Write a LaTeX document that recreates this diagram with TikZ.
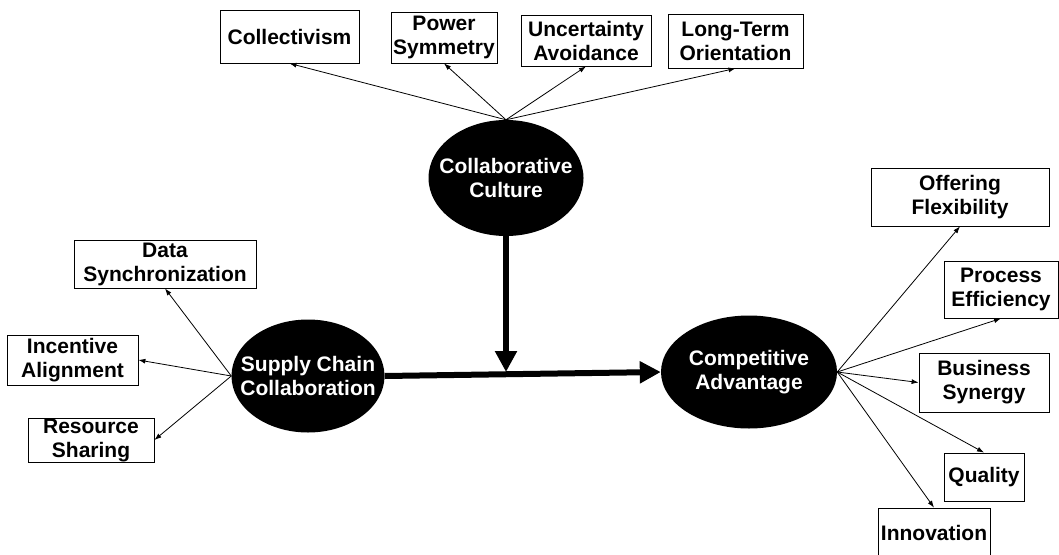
\documentclass[tikz,border=0pt]{standalone}
\usepackage{fontspec}
\setsansfont{Liberation Sans}
\usetikzlibrary{shapes.geometric,arrows.meta}

\begin{document}
\begin{tikzpicture}[x=1pt, y=-1pt,
    font=\sffamily\bfseries\fontsize{21}{24}\selectfont,
    >={Latex[length=7pt,width=5pt]},
    factor/.style={draw, line width=0.8pt, align=center, inner sep=0pt},
    construct/.style={ellipse, fill=black, inner sep=0pt},
    construct label/.style={white, align=center},
    link/.style={line width=0.8pt, ->},
    mainpath/.style={line width=6pt, -{Triangle[length=21pt,width=21pt]}}]

    \useasboundingbox (0,0) rectangle (1059,554);

    %% the three constructs
    \node[construct, minimum width=155pt, minimum height=116pt,
          label={[construct label]center:{Collaborative\\Culture}}] (ccult) at (506,178) {};
    \node[construct, minimum width=153pt, minimum height=113pt,
          label={[construct label]center:{Supply Chain\\Collaboration}}] (scc) at (308,376) {};
    \node[construct, minimum width=176pt, minimum height=113pt,
          label={[construct label]center:{Competitive\\Advantage}}] (cadv) at (749,372) {};

    %% culture dimensions
    \node[factor, minimum width=139pt, minimum height=53pt] (coll)  at (289.5,36.5) {Collectivism};
    \node[factor, minimum width=106pt, minimum height=51pt] (pow)   at (444,37.5)   {Power\\Symmetry};
    \node[factor, minimum width=130pt, minimum height=51pt] (unc)   at (586,40.5)   {Uncertainty\\Avoidance};
    \node[factor, minimum width=135pt, minimum height=54pt] (lto)   at (735.5,41)   {Long-Term\\Orientation};

    %% collaboration dimensions
    \node[factor, minimum width=182pt, minimum height=48pt] (dsync) at (165,264)    {Data\\Synchronization};
    \node[factor, minimum width=131pt, minimum height=50pt] (inc)   at (72.5,360)   {Incentive\\Alignment};
    \node[factor, minimum width=126pt, minimum height=44pt] (res)   at (91,440)     {Resource\\Sharing};

    %% advantage dimensions
    \node[factor, minimum width=178pt, minimum height=58pt] (offer) at (960,197)    {Offering\\Flexibility};
    \node[factor, minimum width=114pt, minimum height=57pt] (proc)  at (1001,289.5) {Process\\Efficiency};
    \node[factor, minimum width=130pt, minimum height=59pt] (bsyn)  at (984,382.5)  {Business\\Synergy};
    \node[factor, minimum width=80pt,  minimum height=48pt] (qual)  at (984,477)    {Quality};
    \node[factor, minimum width=112pt, minimum height=50pt] (innov) at (934,533)    {Innovation};

    %% thin arrows
    \foreach \n in {coll,pow,unc,lto} {
      \draw[link] (ccult.north) -- (\n.south); }
    \draw[link] (scc.west) -- (dsync.south);
    \foreach \n in {inc,res} {
      \draw[link] (scc.west) -- (\n.east); }
    \foreach \n in {offer,proc} {
      \draw[link] (cadv.east) -- (\n.south); }
    \draw[link] (cadv.east) -- (bsyn.west);
    \foreach \n in {qual,innov} {
      \draw[link] (cadv.east) -- (\n.north); }

    %% main paths
    \draw[mainpath] (scc.east) -- (cadv.west);
    \coordinate (meet) at (506,372);
    \draw[mainpath] (ccult.south) -- (meet);

\end{tikzpicture}
\end{document}
